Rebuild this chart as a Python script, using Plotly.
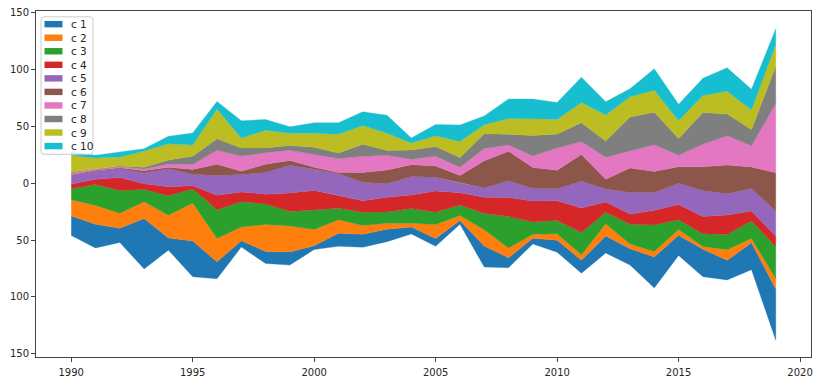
import numpy as np
import plotly.graph_objects as go

years = list(range(1990, 2020))
names = ["c 1", "c 2", "c 3", "c 4", "c 5", "c 6", "c 7", "c 8", "c 9", "c 10"]

c1 = [17.2, 20.9, 12.6, 44.3, 10.6, 31.5, 14.9, 5.7, 10.6, 11.4, 3.4, 11.4, 11.4, 10.9, 6.0, 6.9, 3.4, 18.6, 8.6, 4.9, 10.6, 11.4, 14.9, 14.3, 27.2, 17.7, 24.3, 17.2, 23.7, 45.2]
c2 = [14.3, 16.6, 13.2, 14.9, 20.0, 33.5, 20.6, 12.0, 23.7, 22.9, 14.3, 12.0, 7.7, 5.2, 3.4, 12.3, 4.3, 14.3, 8.6, 3.7, 5.7, 4.9, 10.9, 4.3, 4.9, 5.2, 2.3, 9.4, 3.7, 9.2]
c3 = [9.7, 18.3, 20.0, 10.6, 17.2, 12.3, 25.2, 22.3, 18.0, 12.9, 17.2, 10.0, 11.7, 10.0, 12.9, 10.9, 9.2, 14.3, 27.8, 10.6, 11.7, 19.5, 10.0, 17.2, 23.2, 8.6, 11.2, 13.4, 15.5, 28.0]
c4 = [4.3, 4.6, 11.4, 5.2, 8.0, 2.9, 12.9, 8.6, 8.6, 16.3, 17.2, 11.4, 10.0, 12.9, 12.0, 18.6, 10.9, 14.3, 16.6, 18.6, 17.2, 21.5, 9.2, 9.2, 12.9, 13.4, 15.2, 17.2, 8.6, 9.2]
c5 = [7.4, 7.2, 8.0, 9.4, 15.7, 10.0, 17.2, 15.2, 19.2, 24.3, 18.6, 19.2, 16.3, 12.0, 16.3, 12.0, 8.6, 8.0, 14.9, 10.9, 10.6, 23.7, 11.4, 18.9, 15.7, 18.6, 22.9, 18.6, 20.0, 22.0]
c6 = [0.6, 0.6, 0.6, 2.0, 1.4, 4.3, 10.0, 2.9, 7.2, 4.3, 1.7, 0.9, 8.6, 12.0, 10.3, 10.0, 6.6, 24.0, 25.8, 18.6, 16.3, 23.5, 8.6, 21.5, 18.6, 14.6, 20.9, 25.2, 18.9, 33.8]
c7 = [1.4, 0.9, 0.9, 1.4, 2.9, 4.3, 12.3, 13.4, 10.0, 8.9, 11.4, 12.3, 14.3, 12.9, 4.9, 8.6, 7.2, 10.9, 5.7, 10.0, 19.5, 11.4, 19.2, 14.9, 23.5, 10.0, 19.7, 25.8, 18.6, 60.9]
c8 = [0.9, 0.6, 0.6, 1.7, 3.4, 7.2, 10.0, 7.2, 4.3, 4.3, 6.3, 4.9, 10.6, 4.3, 8.0, 8.6, 8.6, 12.9, 9.4, 18.0, 12.3, 16.6, 14.3, 30.0, 28.6, 14.9, 28.0, 19.2, 14.3, 32.6]
c9 = [14.9, 9.4, 8.0, 14.3, 14.3, 10.0, 26.3, 8.6, 15.7, 10.6, 12.3, 16.6, 16.6, 15.2, 6.3, 9.4, 14.0, 8.0, 13.7, 14.9, 12.9, 17.7, 22.9, 17.7, 19.2, 15.7, 14.9, 20.0, 17.2, 19.5]
c10 = [2.9, 2.6, 4.3, 2.0, 6.6, 10.6, 6.6, 15.2, 9.4, 5.7, 9.2, 10.0, 12.0, 15.7, 4.3, 10.0, 14.6, 7.7, 17.2, 17.2, 14.9, 22.3, 11.7, 7.2, 18.9, 14.3, 15.2, 20.6, 18.3, 13.7]

series = [c1, c2, c3, c4, c5, c6, c7, c8, c9, c10]
colors = ["#1f77b4", "#ff7f0e", "#2ca02c", "#d62728", "#9467bd",
          "#8c564b", "#e377c2", "#7f7f7f", "#bcbd22", "#17becf"]

ytick_vals = [-150, -100, -50, 0, 50, 100, 150]
ytick_text = ["150", "100", "50", "0", "50", "100", "150"]
xtick_vals = [1990, 1995, 2000, 2005, 2010, 2015, 2020]

W, H = 824, 385
ML, MR, MT, MB = 36, 13, 7, 23
PW, PH = W - ML - MR, H - MT - MB


def px(x):
    return (x - ML) / PW


def py(y):
    return 1 - (y - MT) / PH


# streamgraph "wiggle" baseline (as matplotlib stackplot)
Y = np.array(series, dtype=float)
m = Y.shape[0]
baseline = -(Y * (m - 0.5 - np.arange(m)[:, None])).sum(0) / m
stack = baseline + np.cumsum(Y, axis=0)
lower = np.vstack([baseline, stack[:-1]])

fig = go.Figure()
x = np.array(years, dtype=float)
for i in range(m):
    xs = np.concatenate([x, x[::-1]])
    ys = np.concatenate([stack[i], lower[i][::-1]])
    fig.add_trace(go.Scatter(
        x=xs, y=ys, fill="toself", mode="lines",
        line=dict(width=0.3, color=colors[i]), fillcolor=colors[i],
        name=names[i], hoverinfo="skip", showlegend=False))

# legend drawn like matplotlib's (frame, patches, labels)
shapes = []
annotations = []
bx0, by0, bx1, by1 = 41, 13, 93, 154
r = 3
path = (f"M {px(bx0 + r)} {py(by0)} L {px(bx1 - r)} {py(by0)} "
        f"Q {px(bx1)} {py(by0)} {px(bx1)} {py(by0 + r)} "
        f"L {px(bx1)} {py(by1 - r)} Q {px(bx1)} {py(by1)} {px(bx1 - r)} {py(by1)} "
        f"L {px(bx0 + r)} {py(by1)} Q {px(bx0)} {py(by1)} {px(bx0)} {py(by1 - r)} "
        f"L {px(bx0)} {py(by0 + r)} Q {px(bx0)} {py(by0)} {px(bx0 + r)} {py(by0)} Z")
shapes.append(dict(type="path", xref="paper", yref="paper", path=path,
                   fillcolor="rgba(255,255,255,0.8)",
                   line=dict(color="#cccccc", width=1), layer="above"))
for i in range(m):
    cy = 20.5 + i * 13.9
    shapes.append(dict(type="rect", xref="paper", yref="paper",
                       x0=px(44.5), x1=px(62.5), y0=py(cy - 3.3), y1=py(cy + 3.3),
                       fillcolor=colors[i], line=dict(width=0), layer="above"))
    annotations.append(dict(xref="paper", yref="paper", x=px(68.5), y=py(cy),
                            xanchor="left", yanchor="middle", text=names[i],
                            showarrow=False,
                            font=dict(family="DejaVu Sans", size=10.5, color="#262626")))

fig.update_layout(
    width=W, height=H,
    margin=dict(l=ML, r=MR, t=MT, b=MB),
    paper_bgcolor="white", plot_bgcolor="white",
    font=dict(family="DejaVu Sans", size=10, color="#262626"),
    showlegend=False,
    shapes=shapes, annotations=annotations,
    xaxis=dict(range=[1988.55, 2020.45], tickvals=xtick_vals,
               ticks="outside", ticklen=4, tickcolor="#444",
               ticklabelstandoff=2,
               showgrid=False, zeroline=False, showline=True,
               linecolor="#444", linewidth=1, mirror=True),
    yaxis=dict(range=[-152.8, 151.6], tickvals=ytick_vals, ticktext=ytick_text,
               ticks="outside", ticklen=4, tickcolor="#444",
               showgrid=False, zeroline=False, showline=True,
               linecolor="#444", linewidth=1, mirror=True),
)

fig.write_html("out.html", config={"displayModeBar": False},
               post_script="document.body.style.margin='0';document.body.style.overflow='hidden';")
